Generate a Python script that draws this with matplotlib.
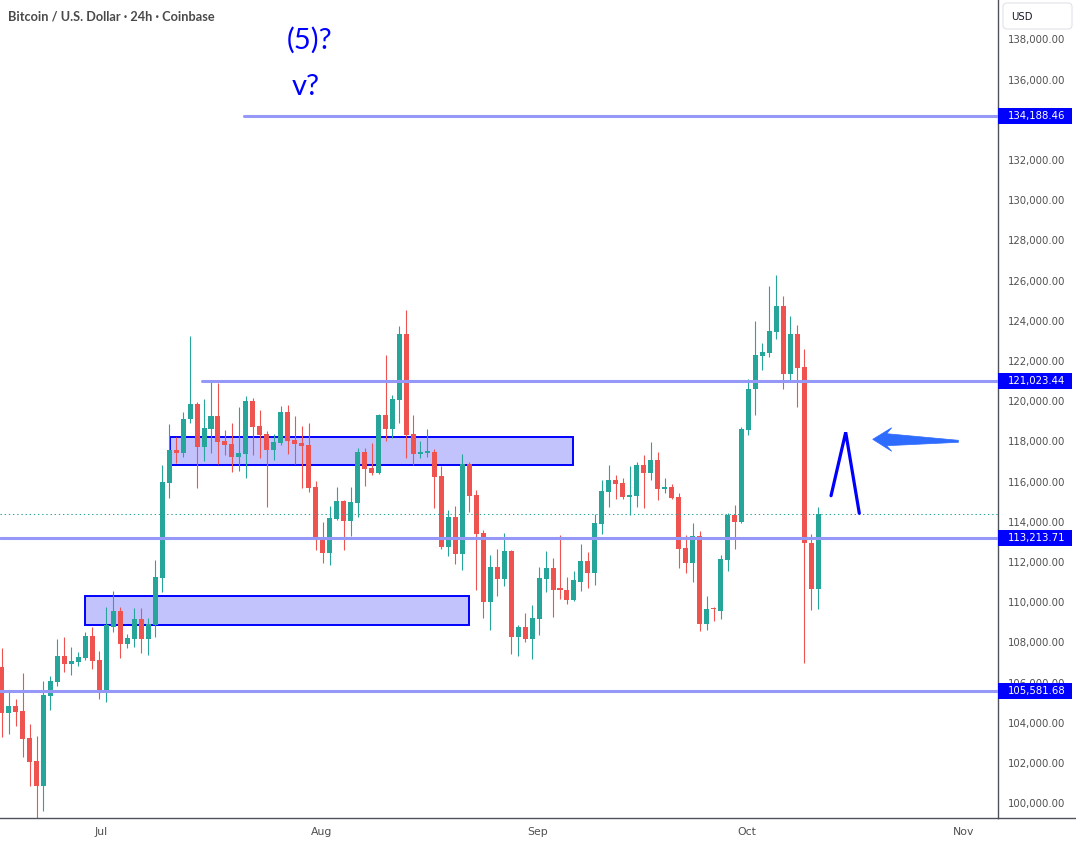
import matplotlib
matplotlib.use("Agg")
import matplotlib.pyplot as plt
import matplotlib.dates as mdates
import matplotlib.transforms as mtransforms
from matplotlib.patches import Rectangle, FancyBboxPatch, Polygon
from matplotlib.lines import Line2D
import numpy as np
import pandas as pd

# ---------------- data ----------------
dates = pd.date_range("2025-06-17", "2025-10-12", freq="D")

opens = [106761, 104502, 104836, 104587, 103240, 102100, 100871, 105348, 106045, 107323,
         106940, 107025, 107209, 108318,
         107124, 105582, 108781, 109562, 107935, 108184, 109164, 108184, 108866, 111219,
         115945, 117572, 117437, 119099, 119860, 117736, 118632, 119264, 118020, 117870,
         117238, 117388, 120010, 118766, 118368, 117587, 117935, 119463, 118069, 117920,
         117820,
         115731, 113194, 112463, 114139, 115035, 114055, 114950, 117472, 116676, 116442,
         119313, 118632, 120074, 123343, 118368, 117388, 117437, 117472, 116277, 112761,
         114239, 112413, 116876, 115333, 113441, 110025, 111751, 111169, 112547, 108283,
         108766,
         108184, 109179, 111169, 111701, 110655, 110607, 110124, 111020, 112050, 111467,
         113905, 115497, 116080, 115930, 115249, 115284, 116826, 116428, 117075, 115632,
         115731, 115233, 112696, 111965, 113293, 108930, 109694, 109577, 112116, 114338,
         114005, 118582, 120591, 122263, 122413, 123458, 124736, 121368, 123343, 121716,
         112945, 110671]
highs = [107706, 105532, 105184, 106477, 103940, 103358, 106080, 106328, 108169, 108268,
         107771, 107537, 108517, 108766,
         107572, 109761, 110557, 109761, 108418, 109711, 109711, 109214, 112099, 116826,
         118866, 118204, 119463, 123243, 119960, 120109, 121005, 120905, 118567, 118915,
         119696, 120258, 120159, 119562, 118517, 118368, 119761, 119811, 119264, 118766,
         118915,
         116030, 114005, 114786, 115731, 115084, 115731, 117671, 117671, 117920, 119380,
         122298, 120308, 123741, 124537, 119313, 118020, 118617, 117621, 116791, 114587,
         114786, 117373, 116975, 115582, 113592, 112348, 112646, 113443, 112597, 108866,
         109462,
         109860, 111751, 112547, 112214, 113343, 111254, 111552, 112895, 112497, 114388,
         116080, 116826, 116328, 116179, 116776, 116975, 117323, 117970, 117472, 116179,
         115880, 115432, 113343, 113940, 113542, 110308, 109761, 112348, 114438, 114835,
         118731, 121104, 123990, 122895, 125731, 126279, 125233, 124238, 123791, 122597,
         113393, 114736]
lows = [103308, 103443, 103855, 102313, 100871, 99249, 99627, 104637, 105831, 106542,
        106393, 106841, 107124, 106691,
        105184, 105050, 108532, 107239, 107721, 107786, 107487, 107388, 108283, 110522,
        115199, 116940, 117238, 118930, 115696, 117039, 117437, 116891, 117338, 116492,
        116542, 116194, 117338, 117189, 114751, 117089, 117836, 117388, 116891, 115696,
        115497,
        112612, 111965, 111866, 114089, 112612, 113308, 114254, 115796, 116343, 116380,
        118035, 118184, 118930, 117189, 116841, 117189, 117238, 114701, 112662, 112313,
        111915, 111617, 114502, 110622, 109229, 108632, 110323, 110821, 107438, 107338,
        108035,
        107189, 108383, 110522, 109278, 110174, 109925, 110074, 110572, 110721, 110870,
        113408, 114751, 115149, 115149, 114353, 114751, 114701, 116080, 115100, 115447,
        115150, 111716, 111467, 111020, 108582, 108632, 109079, 109179, 111567, 112662,
        113955, 118333, 119328, 121567, 122214, 123109, 120621, 121069, 119726, 106960,
        109627, 109677]
closes = [104502, 104836, 104552, 103209, 102065, 100871, 105383, 106080, 107323, 106940,
          107089, 107274, 108318, 107089,
          105582, 108850, 109562, 107935, 108219, 109164, 108184, 108915, 111268, 115980,
          117572, 117437, 119114, 119860, 117736, 118666, 119264, 117985, 117836, 117238,
          117408, 120010, 118731, 118333, 117587, 117970, 119463, 118035, 117870, 117771,
          115696,
          113159, 112463, 114189, 115035, 114055, 114985, 117472, 116641, 116442, 119313,
          118632, 120109, 123343, 118333, 117388, 117420, 117502, 116244, 112761, 114239,
          112413, 116876, 115298, 113408, 110025, 111751, 111169, 112547, 108283, 108766,
          108184,
          109214, 111204, 111701, 110622, 110622, 110124, 111104, 112050, 111467, 113940,
          115532, 116080, 115895, 115249, 115333, 116826, 116428, 117075, 115632, 115731,
          115199, 112662, 111965, 113293, 108930, 109662, 109662, 112149, 114338, 114005,
          118617, 120607, 122298, 122447, 123492, 124736, 121368, 123343, 121666, 112930,
          110671, 114388]

last_price = 114388
levels = [134188.46, 121023.44, 113213.71, 105581.68]
level_start_days = [20.76, 14.67, None, None]          # days after 1 Jul (None = from left edge)
zones = [(10.13, 67.9, 116811, 118200),                  # (start day, end day, low, high)
         (-2.0, 53.0, 108851, 110308)]
yticks = list(range(100000, 138001, 2000))
hidden_ticks = [134000]                                  # covered by the price box
month_labels = ["Jul", "Aug", "Sep", "Oct", "Nov"]
month_starts = ["2025-07-01", "2025-08-01", "2025-09-01", "2025-10-01", "2025-11-01"]

# hand-drawn annotations (day offset from 1 Jul, price)
lambda_pts = [(104.83, 115298), (106.93, 118452), (108.88, 114422)]
arrow_pts = [(110.80, 118104), (113.52, 118681), (112.81, 118383), (123.07, 118055),
             (123.07, 117955), (112.81, 117785), (113.52, 117507)]
wave_texts = [("(5)?", 26.89, 137556), ("v?", 27.61, 135233)]

# ---------------- style ----------------
GREEN = "#26a69a"
RED = "#ef5350"
LEVEL_C = "#9598f7"
AXIS_C = "#50535e"
TEXT_C = "#4f4f4f"
BLUE = "#0000ff"
month_offsets = [0.2, 0.8, 0.8, 0.8, 0.8]

W, H = 1076, 846
fig = plt.figure(figsize=(W / 100, H / 100), dpi=100)
fig.patch.set_facecolor("white")
ax = fig.add_axes([0, 28 / H, 998 / W, 818 / H])

JUL1 = mdates.date2num(pd.Timestamp("2025-07-01"))
xlim = (JUL1 - 14.23, JUL1 + 128.75)
ax.set_xlim(*xlim)
ax.set_ylim(99264, 139960)

x = mdates.date2num(dates)
o = np.array(opens, float); h = np.array(highs, float)
l = np.array(lows, float); c = np.array(closes, float)
up = c >= o
cols = np.where(up, GREEN, RED)

# zones
for d0, d1, lo, hi in zones:
    ax.add_patch(Rectangle((JUL1 + d0, lo), d1 - d0, hi - lo, facecolor="#c2c3fc",
                           edgecolor=BLUE, lw=1.4, zorder=1))

# candles
ax.vlines(x, l, h, colors=cols, lw=0.8, zorder=2)
body_lo = np.minimum(o, c)
body_h = np.maximum(np.abs(c - o), 70)
ax.bar(x, body_h, bottom=body_lo, width=0.72, color=cols, edgecolor="none", zorder=2.5)

# levels
for lev, sd in zip(levels, level_start_days):
    x0 = xlim[0] if sd is None else JUL1 + sd
    ax.plot([x0, xlim[1]], [lev, lev], color=LEVEL_C, lw=2.2, solid_capstyle="round",
            zorder=3)

ax.axhline(last_price, color=GREEN, lw=0.75, linestyle=(0, (1.3, 2.7)), zorder=3)

# annotations
lx = [JUL1 + p[0] for p in lambda_pts]
ly = [p[1] for p in lambda_pts]
ax.plot(lx, ly, color=BLUE, lw=2.3, solid_capstyle="round", solid_joinstyle="miter",
        zorder=4)
ax.add_patch(Polygon([(JUL1 + a, b) for a, b in arrow_pts], closed=True,
                     facecolor="#2e6bff", edgecolor="#2e6bff", lw=0.5, zorder=4))
for s, dx, py in wave_texts:
    ax.text(JUL1 + dx, py, s, color=BLUE, fontsize=21, family="Lato",
            ha="left", va="baseline", zorder=5)

# axes styling
for sp in ["top", "left"]:
    ax.spines[sp].set_visible(False)
for sp in ["right", "bottom"]:
    ax.spines[sp].set_color(AXIS_C)
    ax.spines[sp].set_linewidth(1.0)

ax.yaxis.tick_right()
ax.set_yticks(yticks)
ax.set_yticklabels(["" if v in hidden_ticks else f"{v:,.2f}" for v in yticks])
ax.tick_params(axis="y", length=0, pad=7, labelsize=7.3, labelcolor=TEXT_C)

mt = [mdates.date2num(pd.Timestamp(m)) + off for m, off in zip(month_starts, month_offsets)]
ax.set_xticks(mt)
ax.set_xticklabels(month_labels)
ax.tick_params(axis="x", length=0, pad=6.5, labelsize=7.8, labelcolor=TEXT_C)
ax.grid(False)

# bottom axis line extended under price scale
fig.add_artist(Line2D([998 / W, 1], [28 / H, 28 / H], color=AXIS_C, lw=1.0,
                      transform=fig.transFigure))

# price boxes on the scale
btrans = mtransforms.blended_transform_factory(ax.transAxes, ax.transData)
box_h = 16 * (139960 - 99264) / 818
for lev in levels:
    ax.add_patch(Rectangle((1.0, lev - box_h / 2), 74 / 998, box_h, transform=btrans,
                           facecolor=BLUE, edgecolor="none", clip_on=False, zorder=6))
    ax.text(1008 / 998, lev, f"{lev:,.2f}", transform=btrans, color="white",
            fontsize=7.3, ha="left", va="center", clip_on=False, zorder=7)

# USD box
idt = mtransforms.IdentityTransform()
fig.add_artist(FancyBboxPatch((1003, H - 29), 69, 26,
                              boxstyle="round,pad=0,rounding_size=4",
                              facecolor="white", edgecolor="#e0e3eb", lw=0.8,
                              transform=idt, zorder=10))
fig.text(1011 / W, 1 - 20.5 / H, "USD", color="#131722", fontsize=7.3,
         ha="left", va="baseline", zorder=11)

# title
fig.text(8 / W, 1 - 20.5 / H, "Bitcoin / U.S. Dollar · 24h · Coinbase", color="#4a4a4a",
         fontsize=9.2, family="Lato", weight="bold", ha="left", va="baseline")

fig.savefig("out.png", dpi=100, facecolor="white")
